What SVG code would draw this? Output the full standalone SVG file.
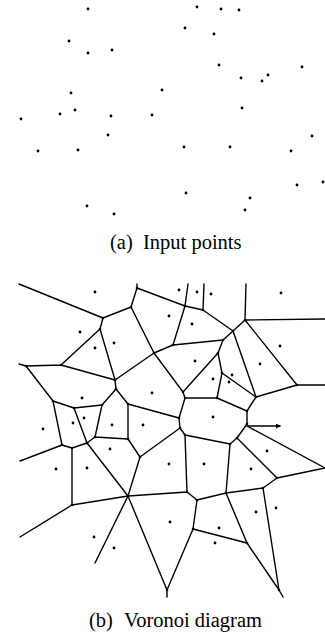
<svg xmlns="http://www.w3.org/2000/svg" width="325" height="636" viewBox="0 0 325 636">
<style>
.pt{fill:#000}
.e{stroke:#000;stroke-width:1.4;fill:none;stroke-linecap:round;stroke-linejoin:round}
.cap{font-family:"Liberation Serif","Times New Roman",serif;font-size:20.5px;fill:#000}
</style>
<defs>
<marker id="ah" viewBox="0 0 6 6" refX="5" refY="3" markerWidth="5" markerHeight="5" orient="auto" markerUnits="userSpaceOnUse">
<path d="M0,0 L6,3 L0,6 z" fill="#000"/>
</marker>
</defs>
<rect width="325" height="636" fill="#fff"/>
<g id="input-points" class="pt">
<circle cx="88" cy="9" r="1.4"/><circle cx="197" cy="7" r="1.4"/><circle cx="221" cy="9" r="1.4"/><circle cx="239" cy="10" r="1.4"/>
<circle cx="185" cy="28" r="1.4"/><circle cx="214" cy="34" r="1.4"/><circle cx="69" cy="41" r="1.4"/><circle cx="88" cy="53" r="1.4"/>
<circle cx="112" cy="50" r="1.4"/><circle cx="219" cy="65" r="1.4"/><circle cx="302" cy="67" r="1.4"/><circle cx="241" cy="78" r="1.4"/>
<circle cx="268" cy="75" r="1.4"/><circle cx="262" cy="81" r="1.4"/><circle cx="71" cy="93" r="1.4"/><circle cx="162" cy="90" r="1.4"/>
<circle cx="75" cy="110" r="1.4"/><circle cx="242" cy="108" r="1.4"/><circle cx="21" cy="119" r="1.4"/><circle cx="60" cy="114" r="1.4"/>
<circle cx="111" cy="116" r="1.4"/><circle cx="152" cy="115" r="1.4"/><circle cx="108" cy="135" r="1.4"/><circle cx="38" cy="151" r="1.4"/>
<circle cx="78" cy="150" r="1.4"/><circle cx="184" cy="147" r="1.4"/><circle cx="230" cy="147" r="1.4"/><circle cx="291" cy="151" r="1.4"/>
<circle cx="312" cy="136" r="1.4"/><circle cx="297" cy="185" r="1.4"/><circle cx="323" cy="182" r="1.4"/><circle cx="186" cy="193" r="1.4"/>
<circle cx="250" cy="198" r="1.4"/><circle cx="245" cy="210" r="1.4"/><circle cx="87" cy="206" r="1.4"/><circle cx="114" cy="214" r="1.4"/>
</g>
<g id="caption-a"><text class="cap" x="110" y="249">(a)</text><text class="cap" x="143" y="249">Input points</text></g>
<g id="voronoi-edges" class="e">
<path d="M19,284 L103,318 L131,307 L137,288 L137,284 M137,288 L185,306 L188,284 M185,306 L203,310 L204,284 M203,310 L233,331 L245,320 L246,284 M245,320 L325,319 M245,320 L297,385 L325,385 M233,331 L223,340 M233,331 L256,397 M185,306 L173,345 L223,340 L218,353 M131,307 L154,353 L173,345 M154,353 L183,392 L218,353 L222,373 L256,397 M222,373 L217,398"/>
<path d="M103,318 L100,329 L61,365 L115,380 L100,329 M61,365 L26,366 L19,364 M26,366 L53,401 M115,380 L154,353 M115,380 L116,389 L102,405 M116,389 L128,404 M53,401 L74,408 L102,405 M53,401 L62,445 M74,408 L87,443 M102,405 L95,437 M62,445 L72,448 L87,443 L95,437 L128,439 L128,404 M128,439 L140,457 L180,428 M140,457 L128,496 M87,443 L128,496 M62,445 L20,461 M72,448 L72,505 L128,496 M72,505 L20,537"/>
<path d="M128,496 L187,492 L185,435 M187,492 L197,500 L226,493 L230,444 L185,435 M230,444 L237,438 L247,424 L247,411 L256,397 L297,385 M247,411 L217,398 L185,398 L183,392 M185,398 L179,418 L180,428 L185,435 M179,418 L128,404 M247,426 L325,468 L277,478 L237,438 M277,478 L263,488 L226,493 M263,488 L279,590 L283,597 M128,496 L95,563 M128,496 L167,590 L167,597 M167,590 L193,529 L197,500 M193,529 L247,543 L226,493 M247,543 L279,590"/>
<path d="M248,426 L280,426" marker-end="url(#ah)"/>
</g>
<g id="voronoi-vertices" class="pt">
<circle cx="103" cy="318" r="1.3"/><circle cx="131" cy="307" r="1.3"/><circle cx="137" cy="288" r="1.3"/><circle cx="185" cy="306" r="1.3"/><circle cx="203" cy="310" r="1.3"/><circle cx="233" cy="331" r="1.3"/><circle cx="245" cy="320" r="1.3"/><circle cx="297" cy="385" r="1.3"/><circle cx="223" cy="340" r="1.3"/><circle cx="173" cy="345" r="1.3"/><circle cx="218" cy="353" r="1.3"/><circle cx="154" cy="353" r="1.3"/><circle cx="183" cy="392" r="1.3"/><circle cx="100" cy="329" r="1.3"/><circle cx="115" cy="380" r="1.3"/><circle cx="61" cy="365" r="1.3"/><circle cx="26" cy="366" r="1.3"/><circle cx="53" cy="401" r="1.3"/><circle cx="116" cy="389" r="1.3"/><circle cx="222" cy="373" r="1.3"/><circle cx="256" cy="397" r="1.3"/><circle cx="74" cy="408" r="1.3"/><circle cx="102" cy="405" r="1.3"/><circle cx="128" cy="404" r="1.3"/><circle cx="62" cy="445" r="1.3"/><circle cx="72" cy="448" r="1.3"/><circle cx="87" cy="443" r="1.3"/><circle cx="95" cy="437" r="1.3"/><circle cx="128" cy="439" r="1.3"/><circle cx="140" cy="457" r="1.3"/><circle cx="128" cy="496" r="1.3"/><circle cx="187" cy="492" r="1.3"/><circle cx="197" cy="500" r="1.3"/><circle cx="226" cy="493" r="1.3"/><circle cx="230" cy="444" r="1.3"/><circle cx="237" cy="438" r="1.3"/><circle cx="247" cy="424" r="1.3"/><circle cx="247" cy="411" r="1.3"/><circle cx="185" cy="398" r="1.3"/><circle cx="217" cy="398" r="1.3"/><circle cx="179" cy="418" r="1.3"/><circle cx="180" cy="428" r="1.3"/><circle cx="185" cy="435" r="1.3"/><circle cx="277" cy="478" r="1.3"/><circle cx="263" cy="488" r="1.3"/><circle cx="72" cy="505" r="1.3"/><circle cx="193" cy="529" r="1.3"/><circle cx="247" cy="543" r="1.3"/><circle cx="167" cy="590" r="1.3"/><circle cx="279" cy="590" r="1.3"/>
</g>
<g id="voronoi-sites" class="pt">
<circle cx="95" cy="292" r="1.4"/><circle cx="179" cy="290" r="1.4"/><circle cx="197" cy="292" r="1.4"/><circle cx="211" cy="294" r="1.4"/><circle cx="281" cy="293" r="1.4"/><circle cx="80" cy="332" r="1.4"/><circle cx="169" cy="316" r="1.4"/><circle cx="192" cy="324" r="1.4"/><circle cx="114" cy="343" r="1.4"/><circle cx="95" cy="348" r="1.4"/><circle cx="280" cy="346" r="1.4"/><circle cx="195" cy="361" r="1.4"/><circle cx="260" cy="364" r="1.4"/><circle cx="213" cy="379" r="1.4"/><circle cx="232" cy="375" r="1.4"/><circle cx="229" cy="382" r="1.4"/>
<circle cx="82" cy="398" r="1.4"/><circle cx="152" cy="393" r="1.4"/><circle cx="43" cy="429" r="1.4"/><circle cx="73" cy="423" r="1.4"/><circle cx="84" cy="418" r="1.4"/><circle cx="112" cy="425" r="1.4"/><circle cx="143" cy="425" r="1.4"/><circle cx="213" cy="417" r="1.4"/><circle cx="110" cy="449" r="1.4"/><circle cx="56" cy="469" r="1.4"/><circle cx="87" cy="468" r="1.4"/><circle cx="169" cy="464" r="1.4"/><circle cx="204" cy="464" r="1.4"/><circle cx="267" cy="451" r="1.4"/><circle cx="251" cy="469" r="1.4"/>
<circle cx="94" cy="537" r="1.4"/><circle cx="114" cy="548" r="1.4"/><circle cx="170" cy="522" r="1.4"/><circle cx="219" cy="528" r="1.4"/><circle cx="215" cy="543" r="1.4"/><circle cx="256" cy="512" r="1.4"/><circle cx="276" cy="508" r="1.4"/>
</g>
<g id="caption-b"><text class="cap" x="89" y="627">(b)</text><text class="cap" x="124" y="627">Voronoi diagram</text></g>
</svg>
